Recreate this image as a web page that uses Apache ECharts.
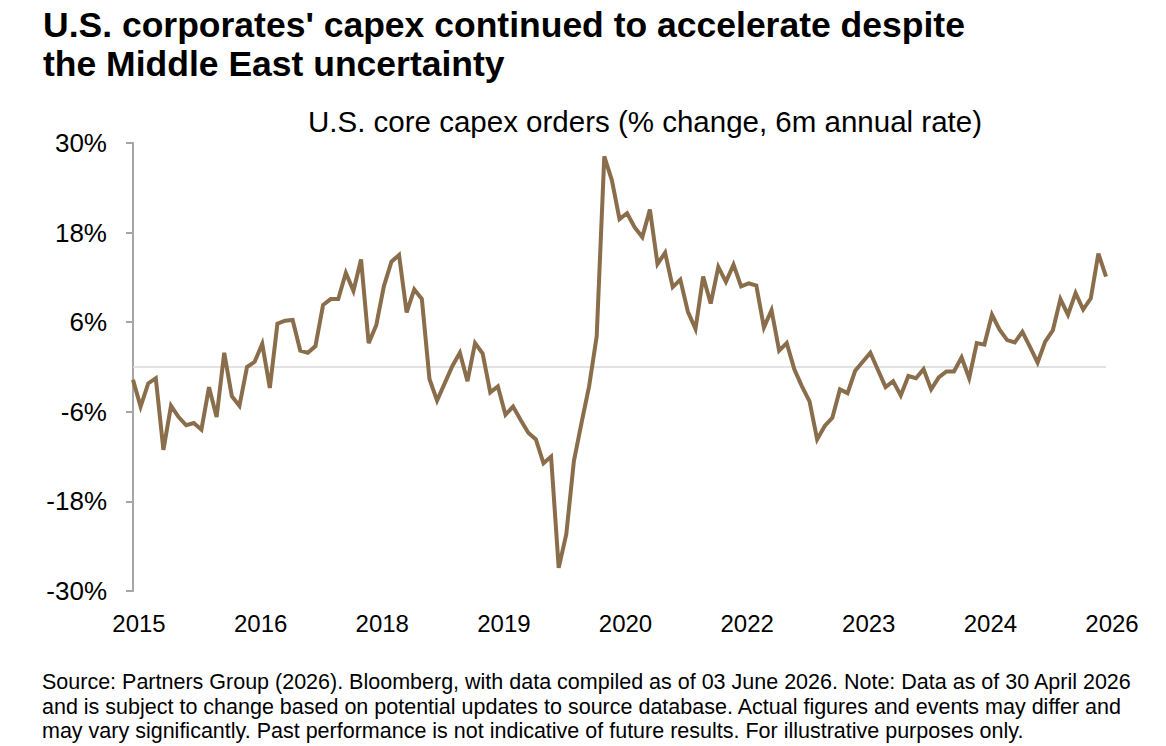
<!DOCTYPE html>
<html>
<head>
<meta charset="utf-8">
<script src="https://cdn.jsdelivr.net/npm/echarts@6/dist/echarts.min.js"></script>
<style>
  html, body { margin: 0; padding: 0; background: #fff; }
  #main { width: 1166px; height: 746px; }
</style>
</head>
<body>
<div id="main"></div>
<script type="text/javascript">
// monthly points, Aug 2015 .. Apr 2026
var startYear = 2015, startMonth = 8;
var capex = [
  -1.7, -5.3, -2.2, -1.5, -11.1, -5.2, -6.7, -7.8, -7.5, -8.4,
  -2.7, -6.7, 1.9, -3.9, -5.2, 0.0, 0.7, 3.1, -2.8, 5.8,
  6.2, 6.3, 2.2, 1.9, 2.8, 8.3, 9.1, 9.1, 12.6, 10.2,
  14.4, 3.2, 5.6, 10.8, 14.1, 15.0, 7.3, 10.4, 9.1, -1.6,
  -4.5, -2.2, 0.1, 1.9, -1.9, 3.2, 1.8, -3.4, -2.6, -6.4,
  -5.3, -7.1, -8.8, -9.7, -12.9, -12.0, -26.9, -22.4, -12.6, -7.5,
  -2.6, 4.1, 28.2, 25.0, 19.8, 20.6, 18.7, 17.4, 21.1, 13.8,
  15.3, 10.7, 11.7, 7.4, 5.1, 12.1, 8.5, 13.4, 11.4, 13.7,
  10.8, 11.2, 10.9, 5.3, 7.6, 2.2, 3.2, -0.3, -2.6, -4.6,
  -9.7, -7.9, -6.8, -3.0, -3.5, -0.5, 0.7, 1.9, -0.4, -2.7,
  -1.9, -3.8, -1.2, -1.5, -0.3, -3.0, -1.4, -0.6, -0.6, 1.3,
  -1.5, 3.2, 3.0, 7.0, 5.0, 3.6, 3.3, 4.7, 2.7, 0.6,
  3.4, 4.9, 9.1, 7.0, 9.9, 7.7, 9.2, 15.2, 12.1
];
var yTicks = [-30, -18, -6, 6, 18, 30];

// build month categories
var months = [];
for (var i = 0; i < capex.length; i++) {
  var m = startMonth - 1 + i;
  var y = startYear + Math.floor(m / 12);
  var mm = (m % 12) + 1;
  months.push(y + '-' + (mm < 10 ? '0' + mm : mm));
}

var font = 'Liberation Sans, Arial, sans-serif';
var chart = echarts.init(document.getElementById('main'), null, { renderer: 'svg' });

chart.setOption({
  backgroundColor: '#fff',
  animation: false,
  title: [{
    text: "U.S. corporates' capex continued to accelerate despite\nthe Middle East uncertainty",
    left: 38,
    top: 0,
    textStyle: { fontFamily: font, fontSize: 35.5, fontWeight: 'bold', color: '#000', lineHeight: 39 }
  }, {
    text: 'U.S. core capex orders (% change, 6m annual rate)',
    left: 640,
    textAlign: 'center',
    top: 101,
    textStyle: { fontFamily: font, fontSize: 29.5, fontWeight: 'normal', color: '#000' }
  }, {
    text: 'Source: Partners Group (2026). Bloomberg, with data compiled as of 03 June 2026. Note: Data as of 30 April 2026\n' +
          'and is subject to change based on potential updates to source database. Actual figures and events may differ and\n' +
          'may vary significantly. Past performance is not indicative of future results. For illustrative purposes only.',
    left: 37,
    top: 665,
    textStyle: { fontFamily: font, fontSize: 21.5, fontWeight: 'normal', color: '#000', lineHeight: 24.5 }
  }],
  grid: { left: 133, right: 60, top: 143, bottom: 155, containLabel: false },
  xAxis: {
    type: 'category',
    data: months,
    boundaryGap: false,
    axisLine: { show: false },
    axisTick: { show: false },
    axisLabel: {
      interval: 15,
      margin: 20,
      padding: [0, 0, 0, 12],
      fontFamily: font,
      fontSize: 24,
      color: '#000',
      formatter: function (v) { return v.slice(0, 4); }
    },
    splitLine: { show: false }
  },
  yAxis: {
    type: 'value',
    min: -30,
    max: 30,
    axisLine: { show: true, lineStyle: { color: '#a6a6a6', width: 2 } },
    axisTick: { show: true, length: 7, customValues: yTicks, lineStyle: { color: '#a6a6a6', width: 2 } },
    axisLabel: {
      customValues: yTicks,
      margin: 26,
      fontFamily: font,
      fontSize: 26,
      color: '#000',
      formatter: function (v) { return v + '%'; }
    },
    splitLine: { show: false }
  },
  series: [{
    name: 'Core capex orders',
    type: 'line',
    data: capex,
    showSymbol: false,
    symbol: 'none',
    lineStyle: { color: '#8a6d4b', width: 4, join: 'miter' },
    itemStyle: { color: '#8a6d4b' },
    z: 3,
    markLine: {
      silent: true,
      symbol: 'none',
      label: { show: false },
      lineStyle: { color: '#d9d9d9', width: 1.5, type: 'solid' },
      data: [{ yAxis: 0 }],
      z: 1
    }
  }]
});
</script>
</body>
</html>
